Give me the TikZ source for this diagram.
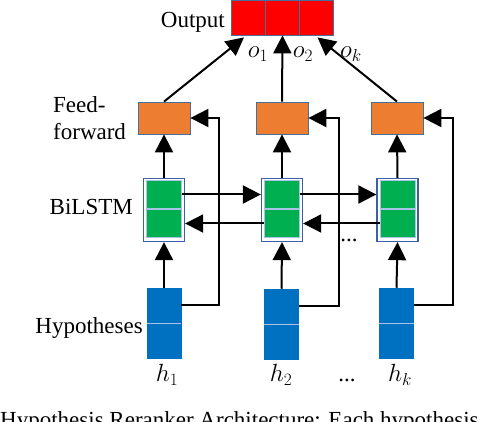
\documentclass[tikz,border=0pt]{standalone}
\usepackage{fontspec}
\setmainfont{Liberation Serif}
\usetikzlibrary{arrows.meta,calc}
\definecolor{ffor}{HTML}{ED7D31}
\definecolor{bdr}{HTML}{41719C}
\definecolor{lgreen}{HTML}{00B050}
\definecolor{hblue}{HTML}{0070C0}
\definecolor{obl}{HTML}{3B5FA8}
\definecolor{sep}{HTML}{A9C4E4}
\tikzset{
  ffbox/.style={draw=bdr,fill=ffor,line width=0.8pt,minimum width=52pt,minimum height=32pt,inner sep=0pt},
  outerbox/.style={draw=obl,fill=white,line width=1.3pt,minimum width=41pt,minimum height=63pt,inner sep=0pt},
  cellbox/.style={draw=sep,fill=lgreen,line width=0.8pt,minimum width=35pt,minimum height=28pt,inner sep=0pt},
  hypbox/.style={draw=hblue,fill=hblue,line width=0.5pt,minimum width=34pt,minimum height=35pt,inner sep=0pt},
  outbox/.style={draw=bdr,fill=red,line width=0.8pt,minimum width=34pt,minimum height=35pt,inner sep=0pt},
  arr/.style={line width=2pt,-{Triangle[length=18pt,width=18pt]}},
  lbl/.style={inner sep=0pt,font=\fontsize{23}{27}\selectfont},
}
\begin{document}
\begin{tikzpicture}[x=1pt,y=-1pt]
\useasboundingbox (0,0) rectangle (480,422);
\clip (0,0) rectangle (480,422);
% output boxes
\node[outbox] (o1) at (248,17.5) {};
\node[outbox] (o2) at (282.5,17.5) {};
\node[outbox] (o3) at (316.5,17.5) {};
% feed-forward
\node[ffbox] (f1) at (164,118) {};
\node[ffbox] (f2) at (282,118) {};
\node[ffbox] (f3) at (397,118) {};
% BiLSTM
\node[outerbox] (b1) at (164,210) {};
\node[outerbox] (b2) at (282,210) {};
\node[outerbox] (b3) at (397.5,210) {};
\node[cellbox] (c1a) at (164,194.5) {};
\node[cellbox] (c1b) at (164,223.5) {};
\node[cellbox] (c2a) at (282,194.5) {};
\node[cellbox] (c2b) at (282,223.5) {};
\node[cellbox] (c3a) at (397.5,194.5) {};
\node[cellbox] (c3b) at (397.5,223.5) {};
% hypotheses
\node[hypbox] (h1a) at (164,305.5) {};
\node[hypbox] (h1b) at (164,341) {};
\node[hypbox] (h2a) at (281.5,306.5) {};
\node[hypbox] (h2b) at (281.5,342) {};
\node[hypbox] (h3a) at (396.5,305.5) {};
\node[hypbox] (h3b) at (396.5,341) {};
\draw[sep,line width=1pt] (h1a.south west) -- (h1a.south east);
\draw[sep,line width=1pt] (h2a.south west) -- (h2a.south east);
\draw[sep,line width=1pt] (h3a.south west) -- (h3a.south east);
% connectors
\draw[arr] (f1.north) -- ($(o1.south)+(-4,2)$);
\draw[arr] (f2.north) -- (o2.south);
\draw[arr] (f3.north) -- ($(o3.south)+(1,2)$);
\draw[arr] (b1.north) -- (f1.south);
\draw[arr] (b2.north) -- (f2.south);
\draw[arr] (b3.north) -- (f3.south);
\draw[arr] (h1a.north) -- (b1.south);
\draw[arr] (h2a.north) -- (b2.south);
\draw[arr] (h3a.north) -- (b3.south);
\draw[arr] (h1a.east) -- ++(38,0) |- (f1.east);
\draw[arr] (h2a.east) -- ++(40,0) |- (f2.east);
\draw[arr] (h3a.east) -- ++(39,0) |- (f3.east);
\draw[arr] (c1a.east) -- (c1a.east -| b2.west);
\draw[arr] (c2a.east) -- (c2a.east -| b3.west);
\draw[arr] (c2b.west) -- (c2b.west -| b1.east);
\draw[arr] (c3b.west) -- (c3b.west -| b2.east);
% labels
\node[lbl,anchor=base east] (tout) at (225,28) {Output};
\node[lbl,anchor=base west] (tff1) at (53,113) {Feed-};
\node[lbl,anchor=base west] (tff2) at (53,140) {forward};
\node[lbl,anchor=base east] (tbi) at (133,215) {BiLSTM};
\node[lbl,anchor=base east] (thyp) at (143,334) {Hypotheses};
\node[lbl,anchor=base] (lo1) at (258,58) {$o_1$};
\node[lbl,anchor=base] (lo2) at (303,58) {$o_2$};
\node[lbl,anchor=base] (lo3) at (351,58) {$o_k$};
\node[lbl,anchor=base] (lh1) at (167,382) {$h_1$};
\node[lbl,anchor=base] (lh2) at (281,382) {$h_2$};
\node[lbl,anchor=base] (ldots) at (347,382) {...};
\node[lbl,anchor=base] (lh3) at (400,382) {$h_k$};
\node[lbl,anchor=base] (ldots2) at (349,242) {...};
\node[lbl,anchor=base west] (cap) at (0,428) {Hypothesis Reranker Architecture: Each hypothesis};
\end{tikzpicture}
\end{document}
